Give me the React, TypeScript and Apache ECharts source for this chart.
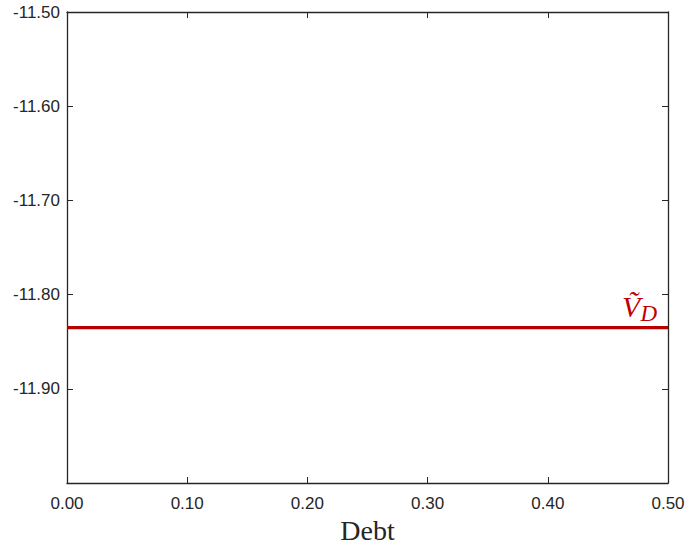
import React, { useEffect, useRef } from "react";
import * as echarts from "echarts";

const debt = [0.0, 0.1, 0.2, 0.3, 0.4, 0.5];
const vD = [-11.835, -11.835, -11.835, -11.835, -11.835, -11.835];
const xTicks = [0, 0.1, 0.2, 0.3, 0.4, 0.5];
const yTicks = [-12.0, -11.9, -11.8, -11.7, -11.6, -11.5];
const seriesName = "V\u0303_D";

export default function App() {
  const ref = useRef<HTMLDivElement>(null);
  useEffect(() => {
    if (!ref.current) return;
    const chart = echarts.init(ref.current, null, { renderer: "svg" });
    const axisColor = "#262626";
    const labelFont = { fontFamily: "Liberation Sans, Arial, sans-serif", fontSize: 17, color: axisColor };
    const xCommon = {
      type: "value" as const,
      min: xTicks[0],
      max: xTicks[xTicks.length - 1],
      interval: 0.1,
      splitLine: { show: false },
      axisLine: { show: true, onZero: false, lineStyle: { color: axisColor, width: 1.3 } },
      axisTick: { show: true, inside: true, length: 6, lineStyle: { color: axisColor } },
    };
    const yCommon = {
      type: "value" as const,
      min: yTicks[0],
      max: yTicks[yTicks.length - 1],
      interval: 0.1,
      splitLine: { show: false },
      axisLine: { show: true, onZero: false, lineStyle: { color: axisColor, width: 1.3 } },
      axisTick: { show: true, inside: true, length: 6, lineStyle: { color: axisColor } },
    };
    chart.setOption({
      animation: false,
      backgroundColor: "#ffffff",
      grid: { left: 67, right: 20, top: 12, bottom: 62, containLabel: false, outerBoundsMode: "none" },
      xAxis: [
        {
          ...xCommon,
          position: "bottom",
          name: "Debt",
          nameLocation: "middle",
          nameGap: 27,
          nameTextStyle: { fontFamily: "Liberation Serif, Times New Roman, serif", fontSize: 28, color: axisColor },
          axisLabel: { ...labelFont, margin: 12, formatter: (v: number) => v.toFixed(2) },
        },
        { ...xCommon, position: "top", axisLabel: { show: false } },
      ],
      yAxis: [
        {
          ...yCommon,
          position: "left",
          axisLabel: {
            ...labelFont,
            margin: 7,
            formatter: (v: number) => (Math.abs(v - yTicks[0]) < 1e-9 ? "" : v.toFixed(2)),
          },
        },
        { ...yCommon, position: "right", axisLabel: { show: false } },
      ],
      series: [
        {
          name: seriesName,
          type: "line",
          data: debt.map((d, i) => [d, vD[i]]),
          showSymbol: false,
          symbol: "none",
          lineStyle: { color: "#b80000", width: 3.2 },
          markPoint: {
            symbol: "circle",
            symbolSize: 0,
            data: [{ coord: [debt[debt.length - 1], vD[vD.length - 1]] }],
            label: {
              show: true,
              position: "left",
              offset: [-6, -21],
              formatter: "{v|V\u0303}{d|D}",
              rich: {
                v: { fontFamily: "Liberation Serif, Times New Roman, serif", fontStyle: "italic", fontSize: 30, color: "#c00000" },
                d: { fontFamily: "Liberation Serif, Times New Roman, serif", fontStyle: "italic", fontSize: 23, color: "#c00000", padding: [14, 0, 0, 0] },
              },
            },
          },
        },
      ],
    });
    return () => chart.dispose();
  }, []);
  return <div ref={ref} style={{ position: "fixed", left: 0, top: 0, width: 688, height: 545 }} />;
}
